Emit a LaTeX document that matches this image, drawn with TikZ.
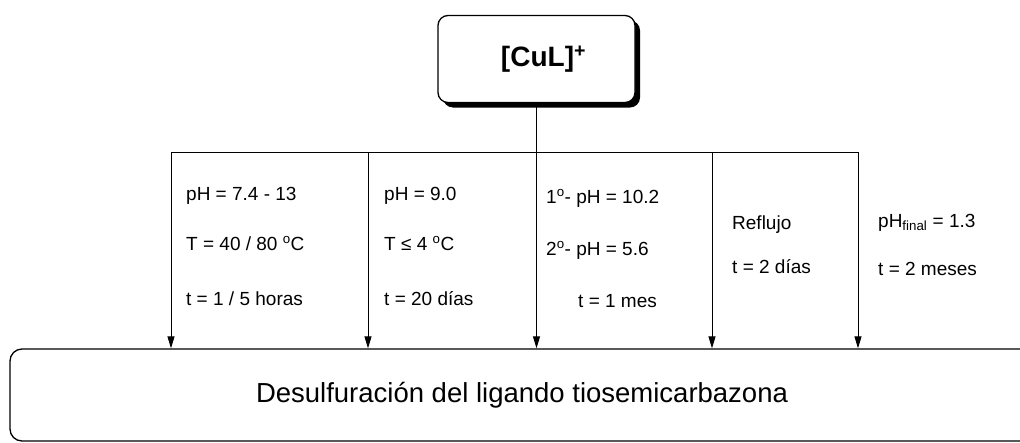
\documentclass[tikz,border=0pt]{standalone}
\usepackage{fontspec}
\setmainfont{Liberation Sans}
\usetikzlibrary{arrows.meta,shadows}
\tikzset{flow/.style={-{Triangle[length=12pt,width=7pt]},line width=1pt},
 cond/.style={anchor=base west,inner sep=0pt,font=\fontsize{19}{21}\selectfont},
 box/.style={draw,line width=1.3pt,fill=white},
 every node/.style={font=\small}}

\begin{document}
\begin{tikzpicture}[x=1pt,y=-1pt]
\useasboundingbox (0,0) rectangle (1020,442);
\node[box,rounded corners=10pt,minimum width=197pt,minimum height=87pt,
  drop shadow={shadow xshift=5pt,shadow yshift=-5pt,opacity=1,fill=black},
  font=\fontsize{28}{30}\selectfont\bfseries] (cul) at (536.5,59) {\hspace*{14pt}[CuL]\textsuperscript{+}};
\node[box,rounded corners=12pt,minimum width=1024pt,minimum height=92pt,
  font=\fontsize{27.5}{30}\selectfont] (des) at (522,395) {Desulfuración del ligando tiosemicarbazona};
% ramas
\coordinate (b1) at (171,152);
\coordinate (b2) at (368,152);
\coordinate (b3) at (cul.south |- b1);
\coordinate (b4) at (712,152);
\coordinate (b5) at (858,152);
\draw[line width=1pt] (b1) -- (b5);
\draw[line width=1pt] (cul.south) -- (b3);
\foreach \b in {b1,b2,b3,b4,b5} \draw[flow] (\b) -- (\b |- des.north);
% condiciones
\node[cond] (c1a) at (186,200) {pH = 7.4 - 13};
\node[cond] (c1b) at (186,250) {T = 40 / 80 \textsuperscript{o}C};
\node[cond] (c1c) at (186,305) {t = 1 / 5 horas};
\node[cond] (c2a) at (384,200) {pH = 9.0};
\node[cond] (c2b) at (384,250) {T ≤ 4 \textsuperscript{o}C};
\node[cond] (c2c) at (384,305) {t = 20 días};
\node[cond] (c3a) at (546,203) {1\textsuperscript{o}- pH = 10.2};
\node[cond] (c3b) at (546,255) {2\textsuperscript{o}- pH = 5.6};
\node[cond] (c3c) at (578,307) {t = 1 mes};
\node[cond] (c4a) at (732,229) {Reflujo};
\node[cond] (c4b) at (732,273) {t = 2 días};
\node[cond] (c5a) at (878,227) {pH\textsubscript{final} = 1.3};
\node[cond] (c5b) at (878,275) {t = 2 meses};
\end{tikzpicture}
\end{document}
